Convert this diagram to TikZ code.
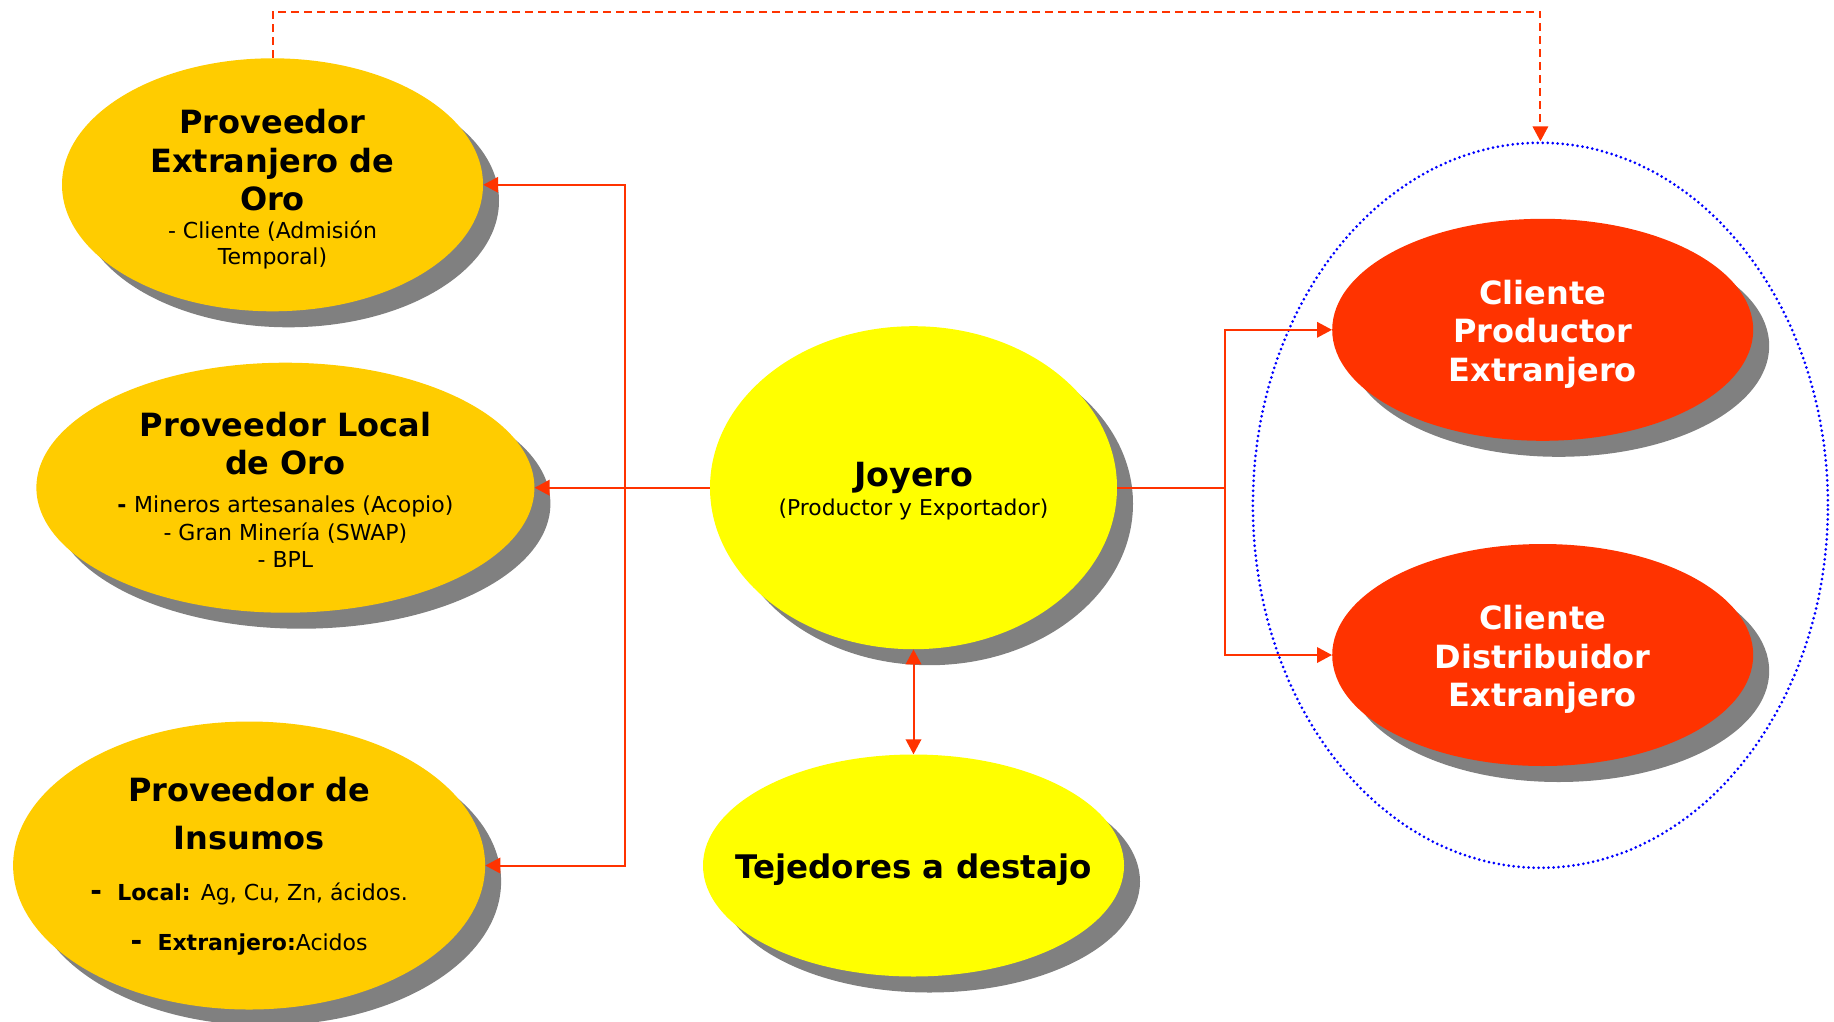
\documentclass[tikz,border=0pt]{standalone}
\usepackage{fontspec}
\setmainfont{DejaVu Sans}
\usetikzlibrary{shapes.geometric,shadows,arrows.meta}

\definecolor{gold}{RGB}{255,204,0}
\definecolor{lemon}{RGB}{255,255,0}
\definecolor{flame}{RGB}{255,51,0}
\definecolor{shade}{RGB}{128,128,128}
\definecolor{linkred}{RGB}{255,51,0}
\definecolor{ringblue}{RGB}{0,0,255}

\tikzset{
  bubble/.style={ellipse, inner sep=0pt, align=center,
    drop shadow={shadow xshift=16pt, shadow yshift=-16pt, fill=shade, opacity=1}},
  supplier/.style={bubble, fill=gold, text=black},
  maker/.style={bubble, fill=lemon, text=black},
  buyer/.style={bubble, fill=flame, text=white},
  link/.style={draw=linkred, line width=2pt},
  arrowed/.style={link, -{Triangle[length=15pt,width=15.5pt]}},
  both/.style={link, {Triangle[length=15pt,width=15.5pt]}-{Triangle[length=15pt,width=15.5pt]}},
  titlefont/.style={font=\bfseries\fontsize{32}{38.6}\selectfont},
}
% small print inside the supplier bubbles
\newcommand{\smallprint}{\fontsize{22}{38.6}\selectfont}

\begin{document}
\begin{tikzpicture}[x=1pt,y=-1pt]
\useasboundingbox (0,0) rectangle (1834,1021);

% suppliers on the left
\node[supplier, minimum width=421pt, minimum height=253pt, titlefont] (extranjero) at (272.5,184.8)
  {\rule{0pt}{32.8pt}Proveedor\\Extranjero de\\Oro\\[-10.5pt]
   {\mdseries\smallprint - Cliente (Admisión}\\[-12.9pt]
   {\mdseries\smallprint Temporal)}};

\node[supplier, minimum width=498pt, minimum height=250pt, titlefont] (local) at (285.4,487.7)
  {\rule{0pt}{27.8pt}Proveedor Local\\de Oro\\[-1.2pt]
   {\smallprint - \mdseries Mineros artesanales (Acopio)}\\[-10.5pt]
   {\mdseries\smallprint - Gran Minería (SWAP)}\\[-11.7pt]
   {\mdseries\smallprint - BPL}};

\node[supplier, minimum width=472pt, minimum height=288pt, titlefont] (insumos) at (249.1,865.5)
  {\rule{0pt}{26pt}Proveedor de\\[9.3pt]Insumos\\[12.9pt]
   {\smallprint {\fontsize{28}{38.6}\selectfont -}\ \ Local: \mdseries Ag, Cu, Zn, ácidos.}\\[11.7pt]
   {\smallprint {\fontsize{28}{38.6}\selectfont -}\ \ Extranjero:\mdseries Acidos}};

% the jeweller and its pieceworkers
\node[maker, minimum width=407pt, minimum height=323pt, font=\fontsize{21.8}{29}\selectfont] (joyero) at (913.5,487.7)
  {\rule{0pt}{31.7pt}{\bfseries\fontsize{33.3}{29}\selectfont Joyero}\\(Productor y Exportador)};

\node[maker, minimum width=421pt, minimum height=222pt, inner xsep=-40pt,
      text height=32.9pt, text depth=7.7pt,
      font=\bfseries\fontsize{32.5}{33}\selectfont] (tejedores) at (913.5,865.5)
  {Tejedores a destajo};

% foreign clients and their grouping ring
\node[draw=ringblue, line width=3pt, line cap=round, dash pattern=on 0pt off 5pt,
      ellipse, minimum width=575pt, minimum height=725pt, inner sep=0pt] (grupo) at (1540.4,505.3) {};

\node[buyer, minimum width=421pt, minimum height=222pt, titlefont] (productor) at (1542.7,329.8)
  {\rule{0pt}{33pt}Cliente\\Productor\\Extranjero};
\node[buyer, minimum width=421pt, minimum height=222pt, titlefont] (distribuidor) at (1542.7,655)
  {\rule{0pt}{33pt}Cliente\\Distribuidor\\Extranjero};

% connectors
\coordinate (busL) at (624.6,487.7);
\coordinate (busR) at (1224.6,487.7);
\coordinate (topL) at (272.5,11.7);

\draw[arrowed] (joyero.west) -- (local.east);
\draw[arrowed] (busL) |- (extranjero.east);
\draw[arrowed] (busL) |- (insumos.east);

\draw[link] (joyero.east) -- (busR);
\draw[arrowed] (busR) |- (productor.west);
\draw[arrowed] (busR) |- (distribuidor.west);

\draw[both] (joyero.south) -- (tejedores.north);

\draw[arrowed, dash pattern=on 8pt off 5pt] (extranjero.north) -- (topL) -| (grupo.north);
\end{tikzpicture}
\end{document}
